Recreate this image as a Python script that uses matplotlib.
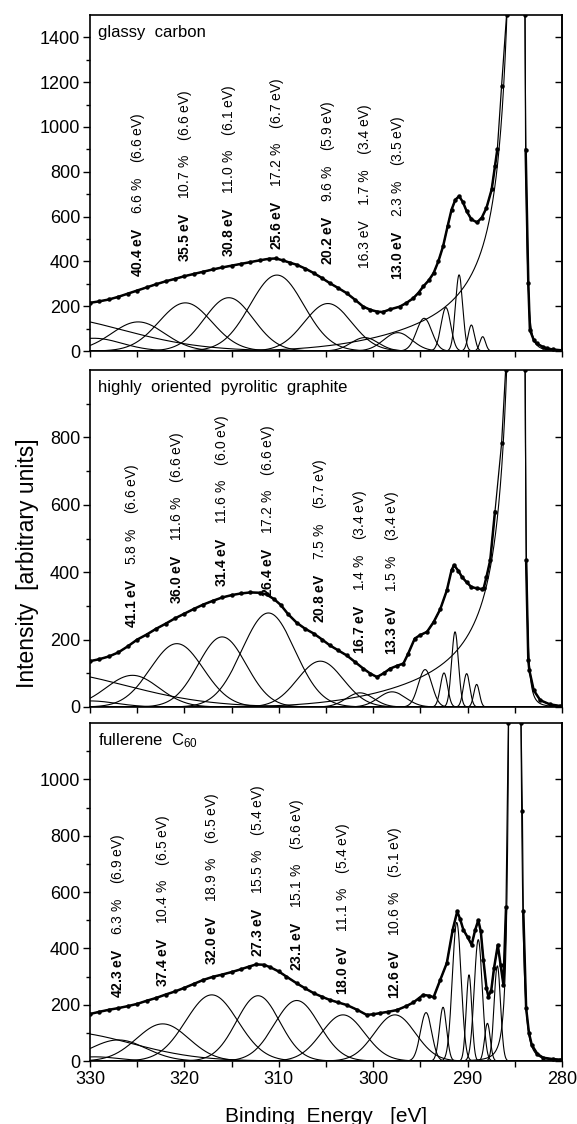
import numpy as np
import matplotlib
matplotlib.use("Agg")
import matplotlib.pyplot as plt
from matplotlib.ticker import FixedLocator, MultipleLocator

plt.rcParams["font.family"] = ["Liberation Sans", "DejaVu Sans"]
plt.rcParams["mathtext.fontset"] = "custom"
plt.rcParams["mathtext.rm"] = "Liberation Sans"
plt.rcParams["mathtext.bf"] = "Liberation Sans:bold"
plt.rcParams["mathtext.it"] = "Liberation Sans:italic"

# ---- glassy carbon ----
glassy_env_e = [330, 329, 328, 327, 326, 325, 324, 323, 322, 321, 320, 319, 318, 317, 316, 315, 314, 313,
                312, 311, 310.3, 309.6, 308.8, 308.1, 307.2, 306.3, 305.4, 304.6, 303.7, 302.8, 301.9,
                301.05, 300.3, 299.6, 299.0, 298.2, 297.2, 296.5, 295.75, 295.2, 294.7, 294.1, 293.6,
                293.1, 292.6, 292.1, 291.7, 291.3, 290.9, 290.5, 290.1, 289.6, 289.0, 288.5, 288.0,
                287.45, 287.1, 286.85, 286.4, 285.87, 283.92, 283.85, 283.57, 283.4, 283.0, 282.7,
                282.0, 281.6, 281.0, 280.0]
glassy_env_i = [215, 222, 230, 242, 256, 270, 284, 298, 311, 322, 334, 344, 354, 364, 373, 381, 389, 397,
                405, 412, 413, 405, 394, 385, 368, 348, 325, 303, 281, 258, 228,
                198, 184, 176, 174, 186, 198, 214, 236, 260, 288, 316, 348,
                400, 467, 560, 631, 675, 691, 665, 624, 588, 574, 595, 639,
                721, 825, 900, 1183, 1500, 1500, 899, 304, 94, 50, 34,
                18, 12, 7, 3]
glassy_loss = [40.4, 35.5, 30.8, 25.6, 20.2, 16.3, 13.0]
glassy_center = [324.9, 319.9, 315.3, 310.2, 304.8, 300.9, 297.4]
glassy_height = [130, 215, 238, 339, 212, 60, 82]
glassy_fwhm = [6.6, 6.6, 6.1, 6.7, 5.9, 3.4, 3.5]
glassy_pct = [6.6, 10.7, 11.0, 17.2, 9.6, 1.7, 2.3]
glassy_bold = [True, True, True, True, True, False, True]
glassy_fine_center = [294.6, 292.3, 290.9, 289.6, 288.4]
glassy_fine_height = [146, 194, 340, 116, 64]
glassy_fine_fwhm = [1.9, 1.2, 0.9, 0.8, 0.7]
glassy_far_center = [335.2, 329.6]
glassy_far_height = [156, 57]
glassy_far_fwhm = [20.2, 7.0]
# center, height, low-side width, low-side power, high-side width, high-side power, cut-off
glassy_main = [284.3, 15000, 0.2, 1.5, 0.224, 0.595, 20.0]

# ---- HOPG ----
hopg_env_e = [330, 329, 328, 327, 326, 325, 324, 323, 322, 321, 320, 319, 318, 317, 316, 315, 314, 313,
              312, 311.3, 310.5, 309.8, 309, 308.1, 307.2, 306.3, 305.4, 304.6, 303.7, 302.8, 301.9,
              301.05, 300.3, 299.6, 298.9, 298.2, 297.5, 296.8, 296.3, 295.6, 295.05, 294.3, 293.6,
              292.9, 292.2, 291.7, 291.44, 291.0, 290.6, 290.1, 289.6, 289.0, 288.5, 288.3, 288.0,
              287.6, 287.1, 286.4, 285.97, 283.9, 283.8, 283.57, 283.46, 283.0, 282.3, 281.3, 280.2]
hopg_env_i = [136, 142, 150, 162, 180, 200, 215, 232, 247, 263, 277, 291, 304, 315, 325, 332, 337, 340,
              339, 334, 320, 303, 275, 250, 232, 218, 200, 183, 168, 153, 133,
              114, 99, 89, 100, 114, 122, 129, 158, 203, 213, 223, 252,
              290, 346, 406, 421, 405, 386, 370, 356, 352, 350, 352, 386,
              436, 580, 782, 1000, 1000, 435, 139, 109, 50, 20, 8, 3]
hopg_loss = [41.1, 36.0, 31.4, 26.4, 20.8, 16.7, 13.3]
hopg_center = [325.5, 320.8, 316.0, 311.1, 305.6, 301.4, 298.0]
hopg_height = [94, 188, 208, 279, 136, 42, 45]
hopg_fwhm = [6.6, 6.6, 6.0, 6.6, 5.7, 3.4, 3.4]
hopg_pct = [5.8, 11.6, 11.6, 17.2, 7.5, 1.4, 1.5]
hopg_bold = [True, True, True, True, True, True, True]
hopg_fine_center = [294.5, 292.5, 291.33, 290.1, 289.04]
hopg_fine_height = [111, 101, 223, 99, 67]
hopg_fine_fwhm = [1.7, 0.9, 0.85, 0.8, 0.7]
hopg_far_center = [335.3, 330.0]
hopg_far_height = [106, 18]
hopg_far_fwhm = [21.2, 6.6]
hopg_main = [284.3, 10200, 0.2, 1.5, 0.224, 0.595, 20.0]

# ---- fullerene C60 ----
c60_env_e = [330, 329, 328, 327, 326, 325, 324, 323, 322, 321, 320, 319, 318, 317, 316, 315, 314, 313.2,
             312.4, 311.6, 310.9, 310, 309.2, 308.1, 307.2, 306.3, 305.4, 304.6, 303.7, 302.8, 301.7,
             300.7, 300.0, 299.3, 298.4, 297.5, 296.5, 295.75, 295.2, 294.7, 294.1, 293.6, 292.9,
             292.2, 291.58, 291.1, 290.8, 290.45, 290.0, 289.57, 289.2, 288.87, 288.6, 288.33, 288.0,
             287.8, 287.5, 287.2, 286.8, 286.5, 286.2, 285.93, 285.68, 284.34, 284.2, 284.1, 283.8,
             283.5, 283.2, 282.6, 282.0, 281.0, 280.2]
c60_env_i = [167, 175, 182, 188, 195, 203, 214, 224, 236, 247, 260, 274, 288, 299, 307, 316, 326, 335,
             343, 342, 333, 318, 300, 276, 258, 241, 228, 217, 208, 199, 182,
             164, 166, 170, 175, 181, 195, 208, 222, 235, 232, 227, 288,
             348, 466, 531, 505, 466, 440, 413, 465, 500, 460, 360, 260,
             229, 250, 330, 412, 340, 270, 546, 1200, 1200, 887, 531, 188,
             100, 57, 25, 12, 7, 5]
c60_loss = [42.3, 37.4, 32.0, 27.3, 23.1, 18.0, 12.6]
c60_center = [327.0, 322.3, 317.1, 312.2, 308.1, 303.2, 297.7]
c60_height = [75, 132, 235, 232, 215, 164, 164]
c60_fwhm = [6.9, 6.5, 6.5, 5.4, 5.6, 5.4, 5.1]
c60_pct = [6.3, 10.4, 18.9, 15.5, 15.1, 11.1, 10.6]
c60_bold = [True, True, True, True, True, True, True]
c60_fine_center = [294.4, 292.6, 291.15, 289.85, 288.87, 287.9, 286.85]
c60_fine_height = [172, 191, 492, 306, 431, 134, 338]
c60_fine_fwhm = [1.4, 0.9, 1.1, 0.7, 1.0, 0.7, 0.8]
c60_far_center = [332.9, 329.5]
c60_far_height = [104, 15]
c60_far_fwhm = [17.0, 6.0]
c60_main = [285.0, 100000, 0.17, 1.6, 0.17, 1.6, None]

# where the rotated labels start (intensity units)
glassy_label_y = [331, 399, 421, 452, 385, 371, 318]
hopg_label_y = [233, 307, 356, 327, 248, 158, 153]
c60_label_y = [223, 264, 342, 371, 318, 235, 220]


def gauss(e, c, h, fwhm):
    return h * np.exp(-4 * np.log(2) * (e - c) ** 2 / fwhm ** 2)


def main_line(e, p):
    c, h, w_lo, p_lo, w_hi, p_hi, cut = p
    d = e - c
    lo = h * (1 + (d / w_lo) ** 2) ** -p_lo
    hi = h * (1 + (d / w_hi) ** 2) ** -p_hi
    if cut:
        hi = hi * np.exp(-(np.clip(d, 0, None) / cut) ** 3)
    return np.where(d < 0, lo, hi)


def draw_panel(ax, title, env_e, env_i, center, height, fwhm, loss, pct, bold, label_y,
               fine_c, fine_h, fine_w, far_c, far_h, far_w, main, ymax, ytop):
    e = np.linspace(280, 330, 3001)
    for c, h, w in zip(list(center) + list(fine_c) + list(far_c),
                       list(height) + list(fine_h) + list(far_h),
                       list(fwhm) + list(fine_w) + list(far_w)):
        ax.plot(e, gauss(e, c, h, w), color="black", lw=0.8)
    ax.plot(e, main_line(e, main), color="black", lw=0.8)

    env_e = np.array(env_e)
    env_i = np.array(env_i)
    left = env_e > main[0]
    for m in (left, ~left):
        # thin line with dots along the steep flanks, thick where the signal is low
        ax.plot(env_e[m], env_i[m], color="black", lw=0.9, marker="o", ms=2.2, zorder=5)
        seg = np.where(m & (env_i < 0.62 * ymax))[0]
        if len(seg):
            ax.plot(env_e[seg], env_i[seg], color="black", lw=1.8, zorder=5)

    for c, y0, l, p, w, b in zip(center, label_y, loss, pct, fwhm, bold):
        if b:
            first = r"$\mathbf{" + f"{l:.1f}" + r"\ eV}$"
        else:
            first = f"{l:.1f} eV"
        s = first + "    " + f"{p:.1f} %" + "    " + f"({w:.1f} eV)"
        ax.text(c, y0, s, rotation=90, ha="center", va="bottom", fontsize=10)

    ax.text(0.016, 0.934, title, transform=ax.transAxes, fontsize=12, va="baseline")

    ax.set_xlim(330, 280)
    ax.set_ylim(0, ymax)
    ax.xaxis.set_major_locator(MultipleLocator(10))
    ax.xaxis.set_minor_locator(MultipleLocator(5))
    ax.tick_params(axis="x", which="both", direction="out", length=4.5, width=1,
                   labelsize=13, pad=3)
    majors = list(range(0, ytop + 1, 200))
    ax.yaxis.set_major_locator(FixedLocator(majors))
    ax.yaxis.set_minor_locator(FixedLocator(list(range(100, ymax, 200))))
    ax.tick_params(axis="y", which="major", direction="out", length=5, width=1,
                   labelsize=13, pad=2)
    ax.tick_params(axis="y", which="minor", direction="out", length=3, width=1)
    for sp in ax.spines.values():
        sp.set_linewidth(1.2)
    sec = ax.secondary_yaxis("right")
    sec.set_yticks(majors)
    sec.tick_params(direction="in", length=5, width=1, labelright=False)
    sec.spines["right"].set_linewidth(1.2)


fig = plt.figure(figsize=(5.77, 11.24), dpi=100)
ax1 = fig.add_axes([0.156, 0.6877, 0.818, 0.299])
ax2 = fig.add_axes([0.156, 0.371, 0.818, 0.2998])
ax3 = fig.add_axes([0.156, 0.056, 0.818, 0.3007])

draw_panel(ax1, "glassy  carbon", glassy_env_e, glassy_env_i, glassy_center, glassy_height,
           glassy_fwhm, glassy_loss, glassy_pct, glassy_bold, glassy_label_y,
           glassy_fine_center, glassy_fine_height, glassy_fine_fwhm,
           glassy_far_center, glassy_far_height, glassy_far_fwhm, glassy_main, 1500, 1400)
draw_panel(ax2, "highly  oriented  pyrolitic  graphite", hopg_env_e, hopg_env_i, hopg_center,
           hopg_height, hopg_fwhm, hopg_loss, hopg_pct, hopg_bold, hopg_label_y,
           hopg_fine_center, hopg_fine_height, hopg_fine_fwhm,
           hopg_far_center, hopg_far_height, hopg_far_fwhm, hopg_main, 1000, 800)
draw_panel(ax3, r"fullerene  C$_{60}$", c60_env_e, c60_env_i, c60_center, c60_height,
           c60_fwhm, c60_loss, c60_pct, c60_bold, c60_label_y,
           c60_fine_center, c60_fine_height, c60_fine_fwhm,
           c60_far_center, c60_far_height, c60_far_fwhm, c60_main, 1200, 1000)

ax1.tick_params(axis="x", labelbottom=False)
ax2.tick_params(axis="x", labelbottom=False)

fig.text(0.047, 1 - 563 / 1124, "Intensity  [arbitrary units]", rotation=90,
         ha="center", va="center", fontsize=16.5)
fig.text(326 / 577, 0.002, "Binding  Energy   [eV]", ha="center", va="baseline", fontsize=15)

fig.savefig("out.png", dpi=100)
